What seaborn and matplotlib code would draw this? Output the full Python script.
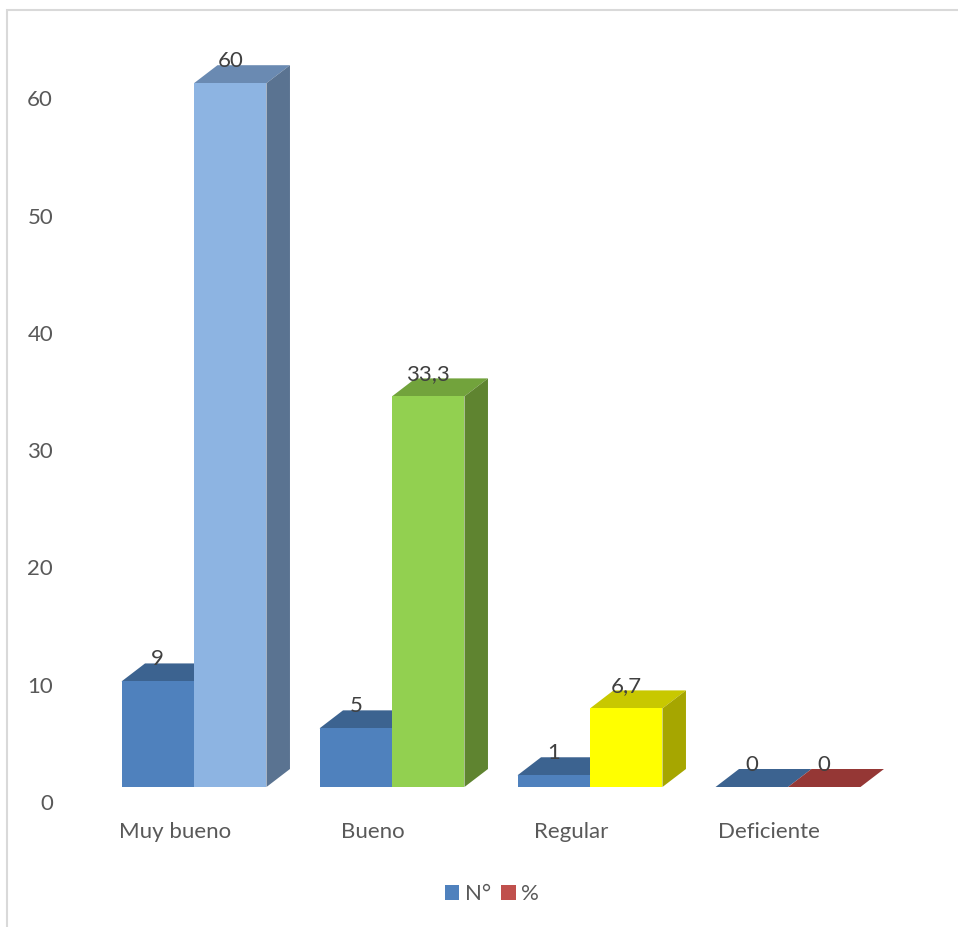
import pandas as pd
import matplotlib
matplotlib.use("Agg")
import matplotlib.pyplot as plt
import matplotlib.transforms as mtransforms
from matplotlib.patches import Polygon, Rectangle, Patch
import seaborn as sns

# datos del gráfico
categorias = ["Muy bueno", "Bueno", "Regular", "Deficiente"]
n_valores = [9, 5, 1, 0]
pct_valores = [60, 33.3, 6.7, 0]
etiquetas_n = ["9", "5", "1", "0"]
etiquetas_pct = ["60", "33,3", "6,7", "0"]
series = ["N°", "%"]

# colores (frente, tapa, lateral)
color_n = ("#4F81BD", "#3C6390", "#3A5F8A")
colores_pct = [
    ("#8DB4E2", "#6A8AB2", "#5A7391"),
    ("#92D050", "#72A33C", "#5F8430"),
    ("#FFFF00", "#C8C800", "#A6A600"),
    ("#C0504D", "#953735", "#7F2F2D"),
]
GRIS = "#595959"

sns.set_theme(style="white")
plt.rcParams["font.family"] = ["Lato", "DejaVu Sans"]

df = pd.DataFrame({
    "categoria": categorias * 2,
    "serie": [series[0]] * 4 + [series[1]] * 4,
    "valor": n_valores + pct_valores,
})

W, H = 958, 927
fig = plt.figure(figsize=(W / 100, H / 100), dpi=100)

# geometría en píxeles
ax_l, ax_r, ax_t, ax_b = 60, 930, 40, 800
x0_px, x_step = 194, 198        # centro del primer grupo, separación
y0_px, y_step = 787, 11.73      # base frontal, píxeles por unidad
depth_x, depth_y = 23.5, 18     # profundidad 3D en píxeles

ax = fig.add_axes([ax_l / W, (H - ax_b) / H, (ax_r - ax_l) / W, (ax_b - ax_t) / H])

sns.barplot(data=df, x="categoria", y="valor", hue="serie", order=categorias,
            hue_order=series, palette={"N°": color_n[0], "%": colores_pct[0][0]},
            width=0.732, saturation=1, legend=False, ax=ax, linewidth=0)

ax.set_xlim((ax_l - x0_px) / x_step, (ax_r - x0_px) / x_step)
ax.set_ylim(-(ax_b - y0_px) / y_step, (y0_px - ax_t) / y_step)

dx = depth_x / x_step
dy = depth_y / y_step


def caja(p, frente, tapa, lateral, z, lado=True):
    x, w, h = p.get_x(), p.get_width(), p.get_height()
    p.set_facecolor(frente)
    p.set_zorder(z + 0.5)
    top = Polygon([(x, h), (x + w, h), (x + w + dx, h + dy), (x + dx, h + dy)],
                  closed=True, facecolor=tapa, edgecolor="none", zorder=z)
    ax.add_patch(top)
    if lado:
        side = Polygon([(x + w, 0), (x + w + dx, dy), (x + w + dx, h + dy), (x + w, h)],
                       closed=True, facecolor=lateral, edgecolor="none", zorder=z)
        ax.add_patch(side)
    return x + w / 2, h + dy


off_lbl = mtransforms.ScaledTranslation(0, -2 / 100, fig.dpi_scale_trans)
for i, p in enumerate(ax.containers[0].patches):
    cx, ty = caja(p, *color_n, z=2, lado=False)
    ax.text(cx, ty, etiquetas_n[i], ha="center", va="baseline", fontsize=16,
            color="#404040", zorder=10, transform=ax.transData + off_lbl)
for i, p in enumerate(ax.containers[1].patches):
    cx, ty = caja(p, *colores_pct[i], z=4)
    ax.text(cx, ty, etiquetas_pct[i], ha="center", va="baseline", fontsize=16,
            color="#404040", zorder=10, transform=ax.transData + off_lbl)

for s in ax.spines.values():
    s.set_visible(False)
ax.set_xlabel("")
ax.set_ylabel("")
ax.set_yticks(range(0, 61, 10))
ax.tick_params(axis="both", length=0, colors=GRIS, labelsize=16)
ax.tick_params(axis="y", pad=5)
ax.tick_params(axis="x", pad=16)
for lbl in ax.get_yticklabels():
    lbl.set_transform(lbl.get_transform() +
                      mtransforms.ScaledTranslation(0, -15 / 100, fig.dpi_scale_trans))
for lbl in ax.get_xticklabels():
    lbl.set_transform(lbl.get_transform() +
                      mtransforms.ScaledTranslation(-19 / 100, 0, fig.dpi_scale_trans))

handles = [Patch(facecolor=color_n[0], edgecolor="none"),
           Patch(facecolor="#C0504D", edgecolor="none")]
fig.legend(handles, series, loc="center", bbox_to_anchor=(492 / W, (H - 894) / H),
           ncol=2, frameon=False, fontsize=16, labelcolor=GRIS,
           handlelength=0.65, handleheight=0.65, handletextpad=0.25, columnspacing=0.45)

# marco del área del gráfico
fig.add_artist(Rectangle((7 / W, -0.1), 1.2, (H - 10) / H + 0.1, transform=fig.transFigure,
                         fill=False, edgecolor="#D9D9D9", linewidth=1.5, clip_on=False))

fig.savefig("out.png", dpi=100, facecolor="white")
